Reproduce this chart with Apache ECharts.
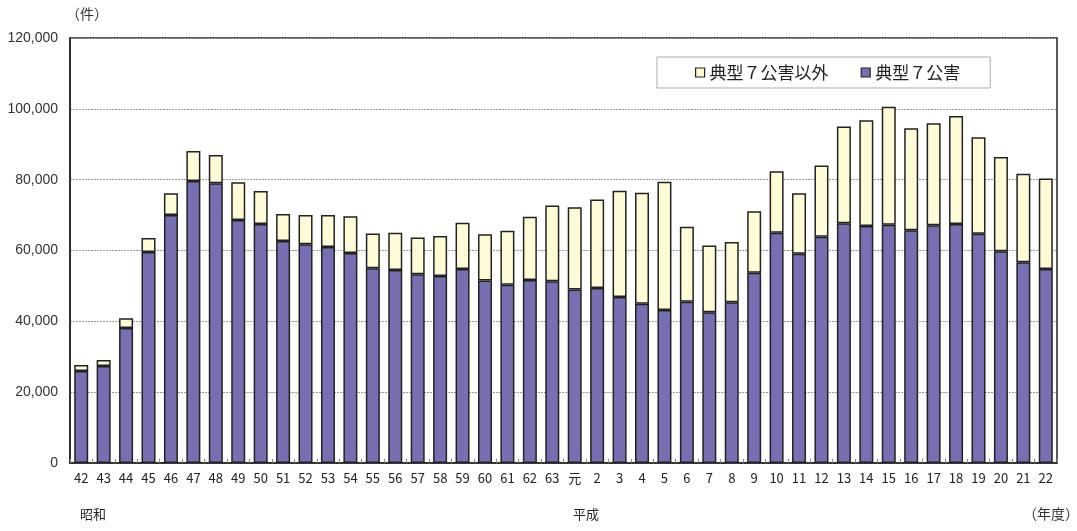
<!DOCTYPE html>
<html>
<head>
<meta charset="utf-8">
<script src="https://cdn.jsdelivr.net/npm/echarts@6/dist/echarts.min.js"></script>
<style>html,body{margin:0;padding:0;background:#fff;}#c{width:1077px;height:531px;}</style>
</head>
<body>
<div id="c"></div>
<script>
const categories = ['42','43','44','45','46','47','48','49','50','51','52','53','54','55','56','57','58','59','60','61','62','63','元','2','3','4','5','6','7','8','9','10','11','12','13','14','15','16','17','18','19','20','21','22'];
const typical7 = [26000,27400,38100,59600,70000,79600,79000,68600,67500,62700,61800,61000,59300,55000,54500,53300,52800,54800,51500,50300,51700,51300,49000,49400,46900,45000,43200,45500,42600,45400,53700,65000,59100,63900,67700,66900,67300,65700,67100,67500,64700,59800,56700,54800];
const otherThan7 = [1700,1700,2800,3900,6200,8500,8000,10700,9300,7600,8200,9000,10400,9800,10500,10400,11300,13000,13100,15300,17800,21400,23200,25000,30000,31300,36200,21200,18800,17000,17400,17400,17100,20100,27300,29900,33300,28800,28800,30500,27300,26600,25000,25500];
const yTicks = [0,20000,40000,60000,80000,100000,120000];

const chart = echarts.init(document.getElementById('c'));
const font = '"Liberation Sans", "Noto Sans CJK JP", sans-serif';
const jp = '"Noto Sans CJK JP", sans-serif';
chart.setOption({
  animation: false,
  backgroundColor: '#fff',
  grid: {left: 70, right: 20, top: 38, bottom: 68, show: true, borderColor: '#222', borderWidth: 1.5, backgroundColor: 'transparent'},
  legend: {
    data: ['典型７公害以外', '典型７公害'],
    left: 657, top: 57,
    padding: [7, 30, 7, 38],
    itemGap: 32,
    itemWidth: 9, itemHeight: 9,
    icon: 'rect',
    backgroundColor: '#fff',
    borderColor: '#aaa', borderWidth: 1,
    textStyle: {fontFamily: jp, fontSize: 17, color: '#222'},
    itemStyle: {borderColor: '#222', borderWidth: 1.2}
  },
  xAxis: {
    type: 'category', data: categories,
    axisLine: {lineStyle: {color: '#222', width: 1.5}},
    axisTick: {show: true, inside: true, length: 4, lineStyle: {color: '#888'}},
    axisLabel: {fontFamily: '"Liberation Sans Narrow", "Noto Sans CJK JP", sans-serif', fontSize: 13, color: '#222', margin: 9, interval: 0}
  },
  yAxis: {
    type: 'value', min: yTicks[0], max: yTicks[yTicks.length-1], interval: 20000,
    axisLine: {show: true, lineStyle: {color: '#222', width: 1.5}},
    axisTick: {show: false},
    splitLine: {lineStyle: {color: '#999', type: [2, 1], width: 1}},
    axisLabel: {fontFamily: font, fontSize: 14, color: '#333', margin: 12,
      formatter: v => v.toLocaleString('en-US')}
  },
  series: [
    {name: '典型７公害', type: 'bar', stack: 'a', data: typical7, barWidth: 14,
     itemStyle: {color: '#7670b2', borderColor: '#222', borderWidth: 1.5}},
    {name: '典型７公害以外', type: 'bar', stack: 'a', data: otherThan7, barWidth: 14,
     itemStyle: {color: '#fffbd6', borderColor: '#222', borderWidth: 1.5}}
  ],
  graphic: [
    {type: 'text', left: 66, top: 7, style: {text: '（件）', fontFamily: jp, fontSize: 14, fill: '#333'}},
    {type: 'text', left: 80, top: 508, style: {text: '昭和', fontFamily: jp, fontSize: 13, fill: '#222'}},
    {type: 'text', left: 573, top: 508, style: {text: '平成', fontFamily: jp, fontSize: 13, fill: '#222'}},
    {type: 'text', left: 1023, top: 507, style: {text: '（年度）', fontFamily: jp, fontSize: 14, fill: '#333'}}
  ]
});
</script>
</body>
</html>
